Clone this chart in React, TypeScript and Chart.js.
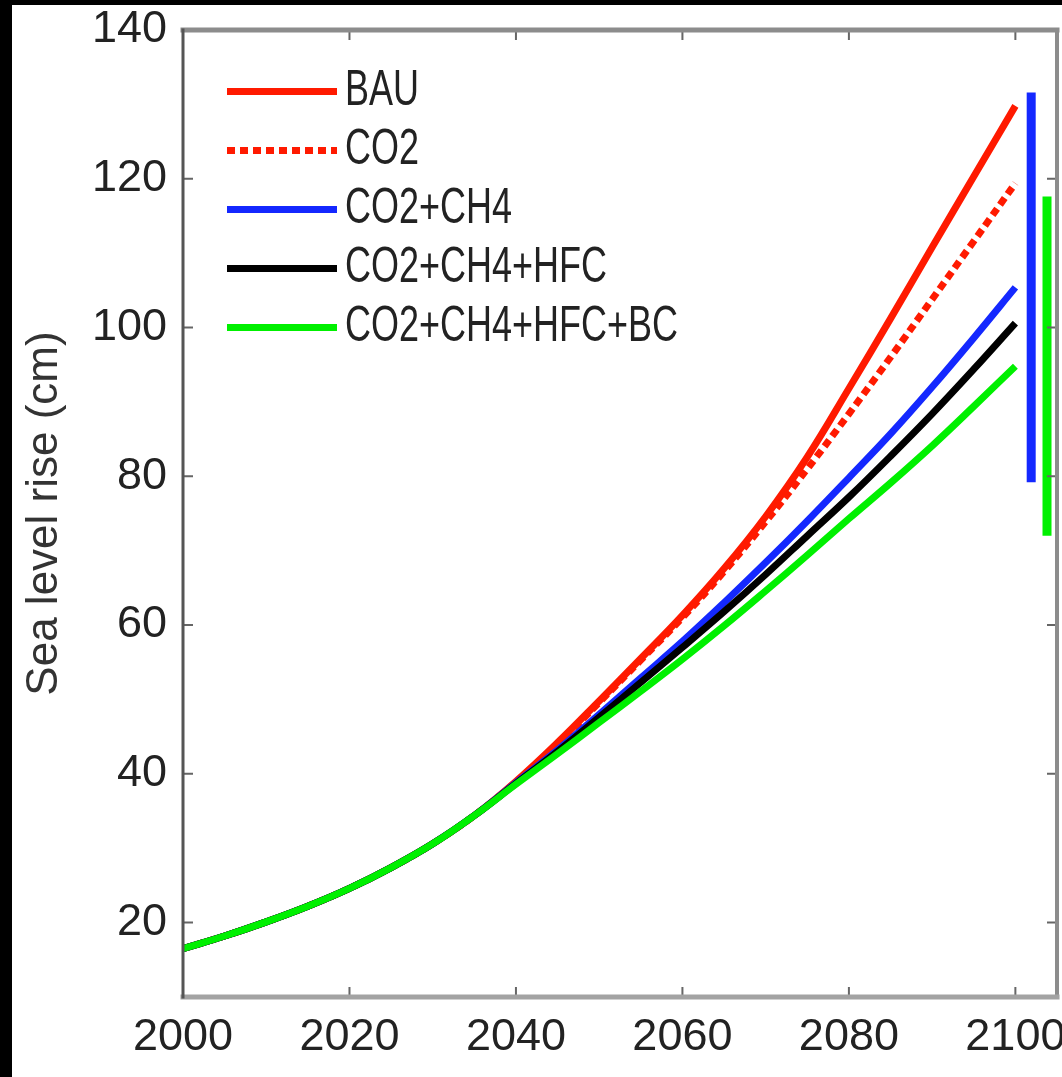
import { useEffect, useRef } from 'react';
import { Chart, registerables } from 'chart.js';

Chart.register(...registerables);

// ---- data ----
const years = [2000, 2005, 2010, 2015, 2020, 2025, 2030, 2035, 2040, 2045, 2050, 2055, 2060, 2065, 2070, 2075, 2080, 2085, 2090, 2095, 2100];
const bau = [16.5, 18.2, 20.1, 22.2, 24.6, 27.4, 30.6, 34.4, 39.0, 44.2, 49.8, 55.5, 61.3, 67.6, 74.6, 82.6, 91.8, 101.2, 110.8, 120.3, 129.8];
const co2 = [16.5, 18.2, 20.1, 22.2, 24.6, 27.4, 30.6, 34.4, 38.9, 44.0, 49.6, 55.3, 61.0, 67.2, 73.9, 81.0, 88.4, 96.0, 103.8, 111.6, 119.4];
const co2ch4 = [16.5, 18.2, 20.1, 22.2, 24.6, 27.4, 30.6, 34.4, 38.8, 43.2, 48.0, 52.9, 57.8, 63.0, 68.4, 74.0, 79.8, 85.7, 92.0, 98.6, 105.4];
const co2ch4hfc = [16.5, 18.2, 20.1, 22.2, 24.6, 27.4, 30.6, 34.4, 38.7, 43.0, 47.6, 52.3, 57.0, 61.8, 66.8, 72.0, 77.2, 82.7, 88.4, 94.4, 100.6];
const co2ch4hfcbc = [16.5, 18.2, 20.1, 22.2, 24.6, 27.4, 30.6, 34.4, 38.6, 42.7, 46.9, 51.1, 55.4, 59.9, 64.6, 69.4, 74.3, 79.1, 84.1, 89.4, 94.8];

const seriesLabels = ['BAU', 'CO2', 'CO2+CH4', 'CO2+CH4+HFC', 'CO2+CH4+HFC+BC'];
const seriesValues = [bau, co2, co2ch4, co2ch4hfc, co2ch4hfcbc];
const seriesColors = ['#ff1a00', '#ff1a00', '#1428ff', '#000000', '#00f000'];
const seriesDashes: number[][] = [[], [8, 5], [], [], []];

// uncertainty ranges at 2100 (x position, low, high)
const blueRangeX = 2101.9;
const blueRange = [79.2, 131.6];
const greenRangeX = 2103.8;
const greenRange = [72.0, 117.6];

const xTicks = [2000, 2020, 2040, 2060, 2080, 2100];
const yTicks = [20, 40, 60, 80, 100, 120, 140];
const xMin = 2000;
const xMax = 2105;
const yMin = 10;
const yMax = 140;
const yTitle = 'Sea level rise (cm)';

const FONT = '"Liberation Sans", Arial, Helvetica, sans-serif';

const framePlugin = {
  id: 'frame',
  afterDatasetsDraw(chart: any) {
    const { ctx, chartArea } = chart;
    const { left, right, top, bottom } = chartArea;
    const xs = chart.scales.x;
    const ys = chart.scales.y;
    ctx.save();
    ctx.setLineDash([]);
    ctx.lineCap = 'butt';
    ctx.strokeStyle = '#666';
    ctx.lineWidth = 2;
    const tl = 10;
    xTicks.forEach((v) => {
      const px = xs.getPixelForValue(v);
      ctx.beginPath();
      ctx.moveTo(px, bottom);
      ctx.lineTo(px, bottom - tl);
      ctx.moveTo(px, top);
      ctx.lineTo(px, top + tl);
      ctx.stroke();
    });
    yTicks.forEach((v) => {
      const py = ys.getPixelForValue(v);
      ctx.beginPath();
      ctx.moveTo(left, py);
      ctx.lineTo(left + tl, py);
      ctx.moveTo(right, py);
      ctx.lineTo(right - tl, py);
      ctx.stroke();
    });
    ctx.lineCap = 'square';
    ctx.strokeStyle = '#8c8c8c';
    ctx.lineWidth = 5;
    ctx.beginPath();
    ctx.moveTo(left, top);
    ctx.lineTo(right, top);
    ctx.stroke();
    ctx.lineWidth = 4;
    ctx.beginPath();
    ctx.moveTo(right, top);
    ctx.lineTo(right, bottom);
    ctx.stroke();
    ctx.strokeStyle = '#a3a3a3';
    ctx.lineWidth = 5;
    ctx.beginPath();
    ctx.moveTo(left, bottom);
    ctx.lineTo(right, bottom);
    ctx.stroke();
    ctx.strokeStyle = '#555';
    ctx.lineWidth = 3;
    ctx.beginPath();
    ctx.moveTo(left, top);
    ctx.lineTo(left, bottom);
    ctx.stroke();
    ctx.restore();
  },
};

const legendPlugin = {
  id: 'condensedLegend',
  afterDraw(chart: any) {
    const { ctx } = chart;
    const x0 = 215;
    const x1 = 325;
    const tx = 333;
    const y0 = 86.5;
    const dy = 59;
    ctx.save();
    seriesLabels.forEach((label, i) => {
      const y = y0 + i * dy;
      ctx.strokeStyle = seriesColors[i];
      ctx.lineWidth = 7;
      ctx.lineCap = 'butt';
      ctx.setLineDash(seriesDashes[i]);
      ctx.beginPath();
      ctx.moveTo(x0, y);
      ctx.lineTo(x1, y);
      ctx.stroke();
      ctx.setLineDash([]);
      ctx.save();
      ctx.translate(tx, y);
      ctx.scale(0.72, 1);
      ctx.font = `50px ${FONT}`;
      ctx.fillStyle = '#222';
      ctx.textAlign = 'left';
      ctx.textBaseline = 'middle';
      ctx.fillText(label, 0, 0);
      ctx.restore();
    });
    ctx.restore();
  },
};

const bgPlugin = {
  id: 'bg',
  beforeDraw(chart: any) {
    const { ctx, width, height } = chart;
    ctx.save();
    ctx.fillStyle = '#ffffff';
    ctx.fillRect(0, 0, width, height);
    ctx.restore();
  },
};

export default function App() {
  const ref = useRef<HTMLCanvasElement | null>(null);

  useEffect(() => {
    if (!ref.current) return;
    const lineSets = seriesLabels.map((label, i) => ({
      label,
      data: years.map((yr, j) => ({ x: yr, y: seriesValues[i][j] })),
      borderColor: seriesColors[i],
      backgroundColor: seriesColors[i],
      borderWidth: 7,
      borderDash: seriesDashes[i],
      borderCapStyle: 'butt' as const,
      pointRadius: 0,
      fill: false,
      tension: 0.4,
      order: 4 - i,
    }));
    const rangeSets = [
      {
        label: 'CO2+CH4 range',
        data: [
          { x: blueRangeX, y: blueRange[0] },
          { x: blueRangeX, y: blueRange[1] },
        ],
        borderColor: seriesColors[2],
        borderWidth: 9,
        borderCapStyle: 'butt' as const,
        pointRadius: 0,
        fill: false,
        order: 6,
      },
      {
        label: 'CO2+CH4+HFC+BC range',
        data: [
          { x: greenRangeX, y: greenRange[0] },
          { x: greenRangeX, y: greenRange[1] },
        ],
        borderColor: seriesColors[4],
        borderWidth: 9,
        borderCapStyle: 'butt' as const,
        pointRadius: 0,
        fill: false,
        order: 5,
      },
    ];

    const chart = new Chart(ref.current, {
      type: 'line',
      data: { datasets: [...lineSets, ...rangeSets] as any },
      options: {
        responsive: false,
        animation: false,
        layout: { autoPadding: false, padding: { left: 0, right: 5, top: 25, bottom: 0 } },
        plugins: {
          legend: { display: false },
          tooltip: { enabled: false },
          title: { display: false },
        },
        scales: {
          x: {
            type: 'linear',
            min: xMin,
            max: xMax,
            grid: { display: false, drawTicks: false },
            border: { display: false },
            afterBuildTicks: (scale: any) => {
              scale.ticks = xTicks.map((v) => ({ value: v }));
            },
            afterFit: (scale: any) => {
              scale.height = 80;
              scale.paddingLeft = 0;
              scale.paddingRight = 0;
              scale.paddingTop = 0;
              scale.paddingBottom = 0;
            },
            ticks: {
              autoSkip: false,
              maxRotation: 0,
              padding: 14,
              color: '#222',
              font: { family: FONT, size: 45 },
              callback: (v: any) => String(v),
            },
          },
          y: {
            type: 'linear',
            min: yMin,
            max: yMax,
            grid: { display: false, drawTicks: false },
            border: { display: false },
            afterBuildTicks: (scale: any) => {
              scale.ticks = yTicks.map((v) => ({ value: v }));
            },
            afterFit: (scale: any) => {
              scale.width = 171;
              scale.paddingLeft = 0;
              scale.paddingRight = 0;
              scale.paddingTop = 0;
              scale.paddingBottom = 0;
            },
            ticks: {
              padding: 16,
              color: '#222',
              font: { family: FONT, size: 45 },
              callback: (v: any) => String(v),
            },
            title: {
              display: true,
              text: yTitle,
              color: '#333',
              font: { family: FONT, size: 44 },
              padding: { top: 6, bottom: 0 },
            },
          },
        },
      },
      plugins: [bgPlugin, framePlugin, legendPlugin],
    });
    return () => chart.destroy();
  }, []);

  return (
    <div style={{ position: 'absolute', left: 0, top: 0, width: 1062, height: 1077, background: '#000', overflow: 'hidden' }}>
      <canvas
        ref={ref}
        width={1050}
        height={1072}
        style={{ position: 'absolute', left: 12, top: 5, width: 1050, height: 1072, background: '#fff' }}
      />
    </div>
  );
}
